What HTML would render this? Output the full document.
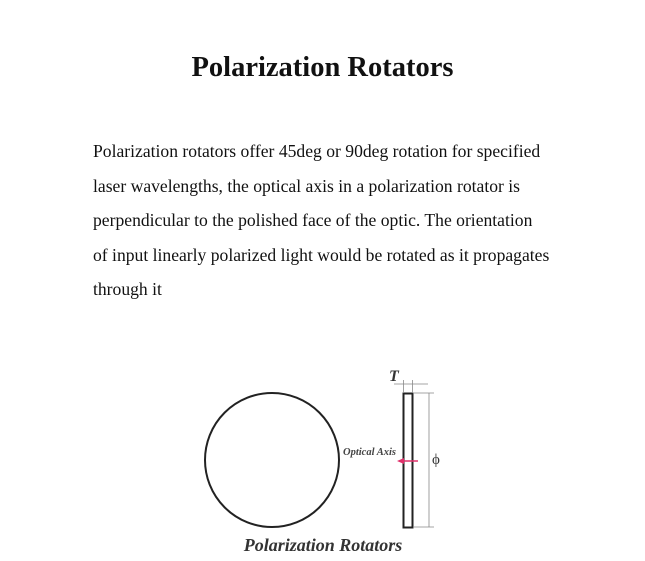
<!DOCTYPE html>
<html><head><style>
body{margin:0;width:645px;height:561px;background:#fff;position:relative;font-family:"Liberation Serif",serif;color:#111;overflow:hidden}
h1{position:absolute;top:51px;left:0;width:645px;text-align:center;margin:0;font-size:28.5px;font-weight:bold;line-height:34px}
p{position:absolute;left:93px;top:134px;width:520px;margin:0;font-size:17.6px;line-height:34.6px}
svg{position:absolute;left:0;top:0}
</style></head><body>
<h1>Polarization Rotators</h1>
<p>Polarization rotators offer 45deg or 90deg rotation for specified<br>laser wavelengths, the optical axis in a polarization rotator is<br>perpendicular to the polished face of the optic. The orientation<br>of input linearly polarized light would be rotated as it propagates<br>through it</p>
<svg width="645" height="561">
<circle cx="272" cy="460" r="67" fill="none" stroke="#222" stroke-width="2"/>
<rect x="403.5" y="393.5" width="9" height="134" fill="none" stroke="#222" stroke-width="2"/>
<line x1="429" y1="393" x2="429" y2="527" stroke="#888" stroke-width="0.8"/>
<line x1="413" y1="393" x2="434" y2="393" stroke="#888" stroke-width="0.8"/>
<line x1="413" y1="527" x2="434" y2="527" stroke="#888" stroke-width="0.8"/>
<line x1="403.5" y1="380" x2="403.5" y2="393" stroke="#888" stroke-width="0.8"/>
<line x1="412.5" y1="380" x2="412.5" y2="393" stroke="#888" stroke-width="0.8"/>
<line x1="394" y1="384" x2="428" y2="384" stroke="#888" stroke-width="0.8"/>
<text x="389" y="381" font-family="Liberation Serif" font-style="italic" font-weight="bold" font-size="16" fill="#333">T</text>
<text x="432" y="464" font-family="Liberation Serif" font-size="15" fill="#333">ϕ</text>
<text x="343" y="455" font-family="Liberation Serif" font-style="italic" font-weight="bold" font-size="10.5" fill="#444">Optical Axis</text>
<line x1="400" y1="461" x2="418" y2="461" stroke="#e0306a" stroke-width="1.5"/>
<polygon points="397,461 404,458 404,464" fill="#e0306a"/>
<text x="323" y="551" text-anchor="middle" font-family="Liberation Serif" font-style="italic" font-weight="bold" font-size="18" fill="#333">Polarization Rotators</text>
</svg>
</body></html>
